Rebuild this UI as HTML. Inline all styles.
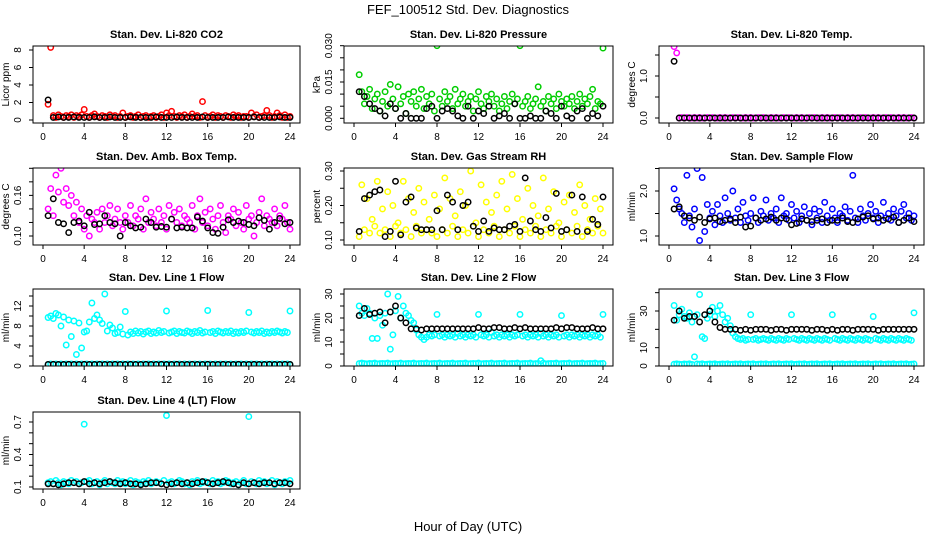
<!DOCTYPE html>
<html><head><meta charset="utf-8"><style>
html,body{margin:0;padding:0;background:#fff;}
svg{display:block;font-family:"Liberation Sans",Arial,sans-serif;}
</style></head><body>
<svg id="chart" width="936" height="540" viewBox="0 0 936 540">
<text x="468" y="14" text-anchor="middle" font-size="13">FEF_100512  Std. Dev. Diagnostics</text>
<text x="468" y="531" text-anchor="middle" font-size="13">Hour of Day (UTC)</text>
</svg>
<script>
const xTicks = [0,4,8,12,16,20,24];
const co2Main = [1.8,8.3,0.5,0.3,0.6,0.4,0.3,0.5,0.4,0.6,0.3,0.5,0.4,0.6,1.2,0.4,0.3,0.5,0.7,0.4,0.3,0.5,0.4,0.3,0.6,0.4,0.5,0.3,0.4,0.8,0.3,0.4,0.5,0.3,0.4,0.6,0.3,0.4,0.5,0.3,0.4,0.5,0.3,0.4,0.6,0.3,0.8,0.5,1.0,0.4,0.3,0.5,0.4,0.6,0.3,0.4,0.7,0.4,0.5,0.3,2.1,0.5,0.3,0.4,0.6,0.3,0.5,0.4,0.3,0.5,0.4,0.3,0.6,0.4,0.5,0.3,0.4,0.4,0.3,0.8,0.4,0.6,0.3,0.4,0.5,1.1,0.5,0.3,0.4,0.8,0.5,0.3,0.6,0.3,0.4];
const co2Black = [2.3,0.3,0.35,0.3,0.3,0.35,0.3,0.3,0.3,0.35,0.3,0.3,0.35,0.3,0.3,0.3,0.35,0.3,0.3,0.3,0.3,0.35,0.3,0.3,0.3,0.35,0.3,0.3,0.3,0.3,0.35,0.3,0.3,0.3,0.3,0.35,0.3,0.3,0.3,0.3,0.35,0.3,0.3,0.3,0.3,0.35,0.3,0.3];
const presMain = [0.018,0.011,0.006,0.009,0.012,0.004,0.008,0.010,0.003,0.007,0.011,0.005,0.014,0.008,0.004,0.013,0.006,0.009,0.002,0.010,0.007,0.011,0.005,0.008,0.012,0.004,0.009,0.006,0.010,0.003,0.030,0.008,0.005,0.011,0.007,0.009,0.004,0.012,0.006,0.008,0.010,0.005,0.007,0.009,0.003,0.008,0.011,0.006,0.004,0.009,0.007,0.010,0.005,0.008,0.003,0.006,0.009,0.004,0.007,0.010,0.006,0.008,0.030,0.005,0.007,0.009,0.004,0.006,0.008,0.013,0.005,0.007,0.003,0.009,0.006,0.008,0.004,0.010,0.007,0.005,0.008,0.006,0.009,0.004,0.007,0.010,0.005,0.008,0.006,0.009,0.012,0.004,0.007,0.006,0.029];
const presBlack = [0.011,0.009,0.006,0.004,0.003,0.001,0.006,0.004,0.000,0.002,0.000,0.000,0.000,0.004,0.005,0.000,0.003,0.004,0.003,0.001,0.000,0.005,0.000,0.003,0.002,0.005,0.000,0.001,0.002,0.000,0.006,0.000,0.000,0.001,0.000,0.000,0.003,0.002,0.000,0.005,0.001,0.000,0.003,0.004,0.000,0.002,0.001,0.005];
const tempMain = [1.70,1.55,0,0.01,0,0.01,0,0,0.01,0,0.01,0,0,0.01,0,0.01,0,0,0.01,0,0.01,0,0,0.01,0,0.01,0,0,0.01,0,0.01,0,0,0.01,0,0.01,0,0,0.01,0,0.01,0,0,0.01,0,0.01,0,0,0.01,0,0.01,0,0,0.01,0,0.01,0,0,0.01,0,0.01,0,0,0.01,0,0.01,0,0,0.01,0,0.01,0,0,0.01,0,0.01,0,0,0.01,0,0.01,0,0,0.01,0,0.01,0,0,0.01,0,0.01,0,0,0.01,0];
const tempBlack = [1.35,0,0,0,0,0,0,0,0,0,0,0,0,0,0,0,0,0,0,0,0,0,0,0,0,0,0,0,0,0,0,0,0,0,0,0,0,0,0,0,0,0,0,0,0,0,0,0];
const ambMain = [0.14,0.17,0.13,0.19,0.165,0.20,0.15,0.17,0.145,0.16,0.13,0.15,0.12,0.14,0.11,0.13,0.10,0.125,0.12,0.135,0.11,0.14,0.12,0.13,0.145,0.115,0.125,0.14,0.12,0.11,0.13,0.12,0.145,0.115,0.13,0.125,0.14,0.11,0.155,0.12,0.135,0.125,0.115,0.14,0.12,0.13,0.11,0.145,0.125,0.135,0.12,0.14,0.115,0.13,0.125,0.12,0.145,0.11,0.13,0.155,0.12,0.135,0.115,0.14,0.125,0.11,0.13,0.145,0.12,0.105,0.13,0.125,0.14,0.115,0.135,0.12,0.11,0.145,0.125,0.13,0.10,0.12,0.135,0.155,0.115,0.13,0.125,0.12,0.14,0.115,0.13,0.125,0.145,0.12,0.11];
const ambBlack = [0.13,0.155,0.12,0.118,0.105,0.12,0.122,0.115,0.135,0.117,0.118,0.13,0.12,0.118,0.10,0.12,0.115,0.112,0.113,0.125,0.12,0.113,0.114,0.113,0.125,0.112,0.113,0.112,0.112,0.128,0.122,0.112,0.105,0.104,0.113,0.124,0.12,0.122,0.12,0.117,0.115,0.127,0.123,0.11,0.12,0.126,0.118,0.12];
const rhMain = [0.11,0.26,0.13,0.22,0.12,0.16,0.14,0.27,0.12,0.19,0.13,0.24,0.11,0.20,0.14,0.15,0.12,0.27,0.13,0.22,0.11,0.18,0.14,0.25,0.12,0.21,0.13,0.16,0.12,0.23,0.11,0.19,0.13,0.28,0.12,0.22,0.14,0.17,0.11,0.24,0.13,0.20,0.12,0.30,0.14,0.15,0.11,0.26,0.13,0.21,0.12,0.18,0.14,0.23,0.11,0.27,0.13,0.19,0.12,0.29,0.14,0.22,0.11,0.16,0.13,0.25,0.12,0.20,0.14,0.17,0.11,0.28,0.13,0.19,0.12,0.24,0.14,0.15,0.11,0.21,0.13,0.23,0.12,0.18,0.14,0.26,0.11,0.20,0.13,0.16,0.12,0.22,0.14,0.19,0.12];
const rhBlack = [0.125,0.22,0.23,0.24,0.245,0.11,0.125,0.27,0.115,0.21,0.225,0.135,0.13,0.13,0.13,0.185,0.13,0.23,0.21,0.13,0.20,0.21,0.14,0.125,0.155,0.125,0.135,0.13,0.13,0.14,0.145,0.125,0.28,0.155,0.13,0.125,0.165,0.135,0.235,0.125,0.13,0.23,0.125,0.225,0.125,0.16,0.145,0.225];
const sampleMain = [2.05,1.8,1.6,1.5,1.3,2.35,1.45,1.2,1.6,2.5,0.9,2.3,1.1,1.7,1.4,1.55,1.25,1.7,1.45,1.3,1.85,1.5,1.35,2.0,1.4,1.6,1.3,1.75,1.45,1.35,1.5,1.85,1.4,1.3,1.55,1.45,1.8,1.35,1.5,1.4,1.6,1.3,1.85,1.45,1.5,1.35,1.7,1.4,1.55,1.3,1.45,1.65,1.35,1.5,1.25,1.6,1.4,1.55,1.3,1.75,1.45,1.35,1.6,1.4,1.3,1.5,1.45,1.65,1.35,1.55,2.35,1.4,1.3,1.6,1.45,1.35,1.5,1.7,1.4,1.55,1.3,1.45,1.75,1.4,1.5,1.35,1.6,1.45,1.3,1.55,1.7,1.4,1.5,1.35,1.45];
const sampleBlack = [1.6,1.65,1.45,1.4,1.35,1.42,1.3,1.38,1.4,1.32,1.35,1.38,1.3,1.42,1.2,1.22,1.4,1.35,1.38,1.42,1.35,1.4,1.38,1.25,1.28,1.38,1.35,1.32,1.35,1.38,1.3,1.35,1.35,1.4,1.32,1.3,1.38,1.42,1.45,1.38,1.4,1.35,1.38,1.42,1.3,1.35,1.4,1.32];
const line1Main = [9.7,10.0,9.5,10.5,10.2,8.0,9.8,4.2,9.2,5.9,9.0,2.3,8.6,3.6,6.8,7.0,8.8,12.6,9.5,10.2,9.2,8.5,14.4,7.0,8.2,7.6,6.5,6.7,7.8,6.4,10.9,6.2,6.8,6.5,7.0,6.6,6.9,6.4,6.8,7.0,6.5,6.8,6.6,7.1,6.7,6.9,11.0,6.6,6.8,7.0,6.5,6.9,6.7,6.6,7.0,6.8,6.5,6.9,6.7,7.1,6.6,6.8,11.1,6.7,6.9,6.5,7.0,6.8,6.6,6.9,6.7,7.0,6.5,6.8,6.6,6.9,6.7,7.0,10.7,6.8,6.6,6.9,6.7,7.0,6.5,6.8,6.6,6.9,6.7,7.0,6.8,6.6,6.9,6.7,11.0];
const line1Low = [0.3,0.4,0.3,0.4,0.3,0.4,0.3,0.4,0.3,0.4,0.3,0.4,0.3,0.4,0.3,0.4,0.3,0.4,0.3,0.4,0.3,0.4,0.3,0.4,0.3,0.4,0.3,0.4,0.3,0.4,0.3,0.4,0.3,0.4,0.3,0.4,0.3,0.4,0.3,0.4,0.3,0.4,0.3,0.4,0.3,0.4,0.3,0.4,0.3,0.4,0.3,0.4,0.3,0.4,0.3,0.4,0.3,0.4,0.3,0.4,0.3,0.4,0.3,0.4,0.3,0.4,0.3,0.4,0.3,0.4,0.3,0.4,0.3,0.4,0.3,0.4,0.3,0.4,0.3,0.4,0.3,0.4,0.3,0.4,0.3,0.4,0.3,0.4,0.3,0.4,0.3,0.4,0.3,0.4,0.3];
const line1Black = [0.3,0.35,0.3,0.3,0.35,0.3,0.3,0.35,0.3,0.3,0.35,0.3,0.3,0.35,0.3,0.3,0.35,0.3,0.3,0.35,0.3,0.3,0.35,0.3,0.3,0.35,0.3,0.3,0.35,0.3,0.3,0.35,0.3,0.3,0.35,0.3,0.3,0.35,0.3,0.3,0.35,0.3,0.3,0.35,0.3,0.3,0.35,0.3];
const line2Main = [25,22,21,24,22,11.5,20,11.5,21,17,22,30,7,13,23,29,20,25,22,21,19,18,15,13,12,11,12,13,12.5,13,21.5,12.5,13,12,13,12.5,13,12,13.5,12.5,13,12,13,12.5,13,12,21.5,13,12.5,13,12,14,12.5,13,12,13,12.5,13,12,13,12.5,13,21.5,12.5,13,12,13,12.5,13,12,13.5,12.5,13,12,13,12.5,13,12,21,12.5,13,12,13,12.5,13,12,13,12.5,13,12,13,12.5,13,12,21.5];
const line2Low = [1,1.2,1,0.9,1.1,1,1.2,0.9,1,1.1,1,1.2,0.9,1,1.1,1,1.2,0.9,1,1.1,1,1.2,0.9,1,1.1,1,1.2,0.9,1,1.1,1,1.2,0.9,1,1.1,1,1.2,0.9,1,1.1,1,1.2,0.9,1,1.1,1,1.2,0.9,1,1.1,1,1.2,0.9,1,1.1,1,1.2,0.9,1,1.1,1,1.2,0.9,1,1.1,1,1.2,0.9,1,1.1,2.2,1.2,0.9,1,1.1,1,1.2,0.9,1,1.1,1,1.2,0.9,1,1.1,1,1.2,0.9,1,1.1,1,1.2,0.9,1,1.1];
const line2Black = [21,24,21.5,22,22.5,18,22.5,25,20,18,15.5,15.5,15,15.5,15.5,15.5,15.5,15.5,15.5,15.5,15.5,15.5,15.5,16,15.5,15.5,16,16,15.5,15.5,16,15.5,16,15.5,15.5,15.5,15.5,15.5,16,15.5,16,16,15.5,15.5,15.5,16,15.5,15.5];
const line3Main = [33,25,28,31,27,26,29,24,27,28,39,16,15,26,28,32,27,30,33,28,24,26,22,18,16,15,14.5,15,14,14.5,28,14.5,15,14,14.5,15,14.5,14,15,14.5,14,15,14.5,14,15,14.5,28,15,14.5,14,15,14.5,14,15,14.5,14,15,14.5,14,15,14.5,14,28,15,14.5,14,15,14.5,14,15,14.5,14,15,14.5,14,15,14.5,14,27,15,14.5,14,15,14.5,14,15,14.5,14,15,14.5,14,15,14.5,14,29];
const line3Low = [1,1.2,1,0.9,1.1,1,1.2,0.9,5,1.1,1,1.2,0.9,1,1.1,1,1.2,0.9,1,1.1,1,1.2,0.9,1,1.1,1,1.2,0.9,1,1.1,1,1.2,0.9,1,1.1,1,1.2,0.9,1,1.1,1,1.2,0.9,1,1.1,1,1.2,0.9,1,1.1,1,1.2,0.9,1,1.1,1,1.2,0.9,1,1.1,1,1.2,0.9,1,1.1,1,1.2,0.9,1,1.1,1,1.2,0.9,1,1.1,1,1.2,0.9,1,1.1,1,1.2,0.9,1,1.1,1,1.2,0.9,1,1.1,1,1.2,0.9,1,1.1];
const line3Black = [25,30,26,27,27,24,28,30,24,21,20,20,20,19.5,20,19.5,20,20,20,19.5,20,20,19.5,20,20,20,20,19.5,20,20,19.5,20,19.5,20,20,19.5,20,20,20,20,19.5,20,20,20,20,20,20,20];
const line4Main = [0.14,0.15,0.13,0.16,0.14,0.12,0.15,0.14,0.13,0.16,0.14,0.15,0.13,0.14,0.68,0.15,0.16,0.13,0.14,0.15,0.12,0.14,0.16,0.13,0.15,0.14,0.13,0.16,0.14,0.15,0.13,0.14,0.16,0.12,0.15,0.14,0.13,0.15,0.14,0.16,0.13,0.14,0.15,0.14,0.13,0.16,0.76,0.14,0.15,0.13,0.14,0.16,0.15,0.13,0.14,0.12,0.15,0.14,0.16,0.13,0.14,0.15,0.14,0.13,0.16,0.14,0.15,0.13,0.14,0.16,0.15,0.13,0.14,0.15,0.12,0.14,0.16,0.13,0.75,0.15,0.14,0.13,0.16,0.14,0.15,0.13,0.14,0.16,0.12,0.15,0.14,0.13,0.15,0.14,0.16];
const line4Black = [0.13,0.13,0.12,0.13,0.14,0.14,0.13,0.15,0.13,0.14,0.13,0.14,0.15,0.14,0.13,0.14,0.13,0.13,0.12,0.13,0.14,0.14,0.13,0.12,0.13,0.14,0.13,0.14,0.13,0.14,0.15,0.14,0.13,0.14,0.15,0.14,0.13,0.12,0.14,0.13,0.14,0.13,0.14,0.14,0.13,0.14,0.14,0.13];

const svg = document.getElementById('chart');
const NS = 'http://www.w3.org/2000/svg';
function mk(tag, attrs, parent){ const e=document.createElementNS(NS,tag); for(const k in attrs) e.setAttribute(k,attrs[k]); (parent||svg).appendChild(e); return e; }

const colLeft=[33,344,659], colRight=[300,613,924], rowTop=[46,168,289,412], boxH=77;
const panels = [
 {name:'co2',title:'Stan. Dev. Li-820 CO2',ylab:'Licor ppm',c:0,r:0,v0:0,p0:120,v1:8,p1:50,ticks:[0,2,4,6,8],labels:[0,2,4,6,8],dec:0,series:[[co2Main,'#ff0000'],[co2Black,'#000']]},
 {name:'pressure',title:'Stan. Dev. Li-820 Pressure',ylab:'kPa',c:1,r:0,v0:0,p0:118.3,v1:0.03,p1:45.7,ticks:[0,0.005,0.01,0.015,0.02,0.025,0.03],labels:[0,0.015,0.03],dec:3,series:[[presMain,'#00cd00'],[presBlack,'#000']]},
 {name:'temp',title:'Stan. Dev. Li-820 Temp.',ylab:'degrees C',c:2,r:0,v0:0,p0:118,v1:1,p1:76,ticks:[0,0.5,1,1.5],labels:[0,1],dec:1,series:[[tempMain,'#ff00ff'],[tempBlack,'#000']]},
 {name:'amb-temp',title:'Stan. Dev. Amb. Box Temp.',ylab:'degrees C',c:0,r:1,v0:0.10,p0:236,v1:0.20,p1:168.3,ticks:[0.10,0.12,0.14,0.16,0.18,0.20],labels:[0.10,0.16],dec:2,series:[[ambMain,'#ff00ff'],[ambBlack,'#000']]},
 {name:'rh',title:'Stan. Dev. Gas Stream RH',ylab:'percent',c:1,r:1,v0:0.10,p0:240,v1:0.30,p1:171,ticks:[0.10,0.15,0.20,0.25,0.30],labels:[0.10,0.20,0.30],dec:2,series:[[rhMain,'#ffff00'],[rhBlack,'#000']]},
 {name:'sample-flow',title:'Stan. Dev. Sample Flow',ylab:'ml/min',c:2,r:1,v0:1,p0:236,v1:2,p1:191,ticks:[1,1.5,2,2.5],labels:[1,2],dec:1,series:[[sampleMain,'#0000ff'],[sampleBlack,'#000']]},
 {name:'line1-flow',title:'Stan. Dev. Line 1 Flow',ylab:'ml/min',c:0,r:2,v0:0,p0:366,v1:12,p1:306,ticks:[0,2,4,6,8,10,12,14],labels:[0,4,8,12],dec:0,series:[[line1Main,'#00ffff'],[line1Low,'#00ffff'],[line1Black,'#000']]},
 {name:'line2-flow',title:'Stan. Dev. Line 2 Flow',ylab:'ml/min',c:1,r:2,v0:0,p0:366,v1:30,p1:294,ticks:[0,5,10,15,20,25,30],labels:[0,10,20,30],dec:0,series:[[line2Main,'#00ffff'],[line2Low,'#00ffff'],[line2Black,'#000']]},
 {name:'line3-flow',title:'Stan. Dev. Line 3 Flow',ylab:'ml/min',c:2,r:2,v0:0,p0:366,v1:30,p1:311,ticks:[0,10,20,30,40],labels:[0,10,30],dec:0,series:[[line3Main,'#00ffff'],[line3Low,'#00ffff'],[line3Black,'#000']]},
 {name:'line4-flow',title:'Stan. Dev. Line 4 (LT) Flow',ylab:'ml/min',c:0,r:3,v0:0.1,p0:487,v1:0.7,p1:422,ticks:[0.1,0.2,0.3,0.4,0.5,0.6,0.7],labels:[0.1,0.4,0.7],dec:1,series:[[line4Main,'#00ffff'],[line4Black,'#000']]}
];

panels.forEach(p=>{
  const L=colLeft[p.c], R=colRight[p.c], T=rowTop[p.r], B=T+boxH;
  const xs = h => (L+10) + (R-L-20)*h/24;
  const ys = v => p.p0 + (v-p.v0)*(p.p1-p.p0)/(p.v1-p.v0);
  const g = mk('g',{});
  
  
  const clip = mk('clipPath',{id:'clip-'+p.name},g);
  mk('rect',{x:L,y:T,width:R-L,height:boxH},clip);
  const marks = mk('g',{'clip-path':'url(#clip-'+p.name+')'},g);
  p.series.forEach((s,si)=>{
    const vals=s[0], n=vals.length;
    vals.forEach((v,i)=>{
      const h = 0.5 + 23.5*i/(n-1);
      const c = mk('circle',{cx:xs(h).toFixed(1),cy:ys(v).toFixed(1),r:2.7,fill:'none',stroke:s[1],'stroke-width':1.5},marks);
      
      
    });
  });
  const box = mk('rect',{x:L,y:T,width:R-L,height:boxH,fill:'none',stroke:'#000','stroke-width':1},g);
  
  
  const t = mk('text',{x:(L+R)/2,y:T-8,'text-anchor':'middle','font-size':11,'font-weight':'bold'},g);
  t.textContent = p.title;
  
  
  const yl = mk('text',{transform:`translate(${L-24},${(T+B)/2}) rotate(-90)`,'text-anchor':'middle','font-size':10},g);
  yl.textContent = p.ylab;
  
  
  p.ticks.forEach(v=>{
    const y=ys(v);
    mk('line',{x1:L,x2:L-4,y1:y,y2:y,stroke:'#000','stroke-width':1},g);
  });
  p.labels.forEach(v=>{
    const y=ys(v);
    const lt = mk('text',{transform:`translate(${L-12},${y}) rotate(-90)`,'text-anchor':'middle','font-size':10},g);
    lt.textContent = v.toFixed(p.dec);
    
    
  });
  xTicks.forEach(h=>{
    const x=xs(h);
    mk('line',{x1:x,x2:x,y1:B,y2:B+4,stroke:'#000','stroke-width':1},g);
    const xt = mk('text',{x:x,y:B+17,'text-anchor':'middle','font-size':10},g);
    xt.textContent = h;
    
    
  });
});
</script>
</body></html>
